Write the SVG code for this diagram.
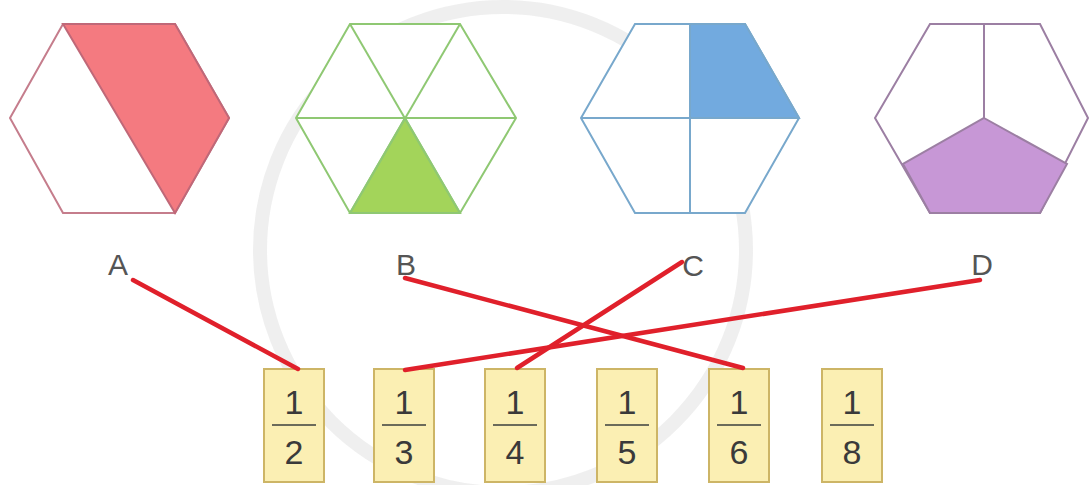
<svg xmlns="http://www.w3.org/2000/svg" width="1089" height="485" viewBox="0 0 1089 485">
<style>
.bg{fill:#ffffff}
.wm{fill:none;stroke:#ebebeb;stroke-width:14}
.lbl{font-family:"Liberation Sans",Arial,sans-serif;font-size:30px;fill:#555555;text-anchor:middle}
.card{fill:#fbefb3;stroke:#cdb566;stroke-width:2}
.num{font-family:"Liberation Sans",Arial,sans-serif;font-size:34px;fill:#3a3a3a;text-anchor:middle}
.bar{stroke:#6b6b5a;stroke-width:2}
.link{stroke:#e0202b;stroke-width:4.5;stroke-linecap:round;fill:none}
</style>
<rect class="bg" x="0" y="0" width="1089" height="485"/>
<g id="watermark" opacity="0.8">
<circle class="wm" cx="503" cy="250" r="243"/>
</g>
<g id="hexA">
<polygon points="63,24 175,24 229,118 175,213 63,213 10,118" fill="#ffffff" stroke="#c57d8c" stroke-width="2"/>
<polygon points="63,24 175,24 229,118 175,213" fill="#f47a80" stroke="#c06878" stroke-width="2"/>
</g>
<g id="hexB" stroke="#8fc873" stroke-width="2">
<polygon points="350,24 460,24 516,118 460,213 350,213 296,118" fill="#ffffff"/>
<polygon points="405,118 460,213 350,213" fill="#a3d45a"/>
<line x1="296" y1="118" x2="516" y2="118"/>
<line x1="350" y1="24" x2="460" y2="213"/>
<line x1="460" y1="24" x2="350" y2="213"/>
</g>
<g id="hexC" stroke="#78a8cc" stroke-width="2">
<polygon points="635,24 745,24 799,118 745,213 635,213 581,118" fill="#ffffff"/>
<polygon points="690,24 745,24 799,118 690,118" fill="#72aadf"/>
<line x1="581" y1="118" x2="799" y2="118"/>
<line x1="690" y1="24" x2="690" y2="213"/>
</g>
<g id="hexD" stroke="#9c7fa3" stroke-width="2">
<polygon points="930,24 1040,24 1088,118 1040,213 930,213 875,118" fill="#ffffff"/>
<polygon points="984,118 1067,164 1040,213 930,213 903,164" fill="#c797d6"/>
<line x1="984" y1="24" x2="984" y2="118"/>
</g>
<g id="labels">
<text class="lbl" x="118" y="275">A</text>
<text class="lbl" x="406" y="275">B</text>
<text class="lbl" x="693" y="276">C</text>
<text class="lbl" x="982" y="275">D</text>
</g>
<g id="card2">
<rect class="card" x="264" y="369" width="60" height="113"/>
<text class="num" x="294" y="414">1</text>
<line class="bar" x1="272" y1="425" x2="316" y2="425"/>
<text class="num" x="294" y="464">2</text>
</g>
<g id="card3">
<rect class="card" x="374" y="369" width="60" height="113"/>
<text class="num" x="404" y="414">1</text>
<line class="bar" x1="382" y1="425" x2="426" y2="425"/>
<text class="num" x="404" y="464">3</text>
</g>
<g id="card4">
<rect class="card" x="485" y="369" width="60" height="113"/>
<text class="num" x="515" y="414">1</text>
<line class="bar" x1="493" y1="425" x2="537" y2="425"/>
<text class="num" x="515" y="464">4</text>
</g>
<g id="card5">
<rect class="card" x="597" y="369" width="60" height="113"/>
<text class="num" x="627" y="414">1</text>
<line class="bar" x1="605" y1="425" x2="649" y2="425"/>
<text class="num" x="627" y="464">5</text>
</g>
<g id="card6">
<rect class="card" x="709" y="369" width="60" height="113"/>
<text class="num" x="739" y="414">1</text>
<line class="bar" x1="717" y1="425" x2="761" y2="425"/>
<text class="num" x="739" y="464">6</text>
</g>
<g id="card8">
<rect class="card" x="822" y="369" width="60" height="113"/>
<text class="num" x="852" y="414">1</text>
<line class="bar" x1="830" y1="425" x2="874" y2="425"/>
<text class="num" x="852" y="464">8</text>
</g>
<g id="connectors">
<line class="link" x1="133" y1="280" x2="298" y2="369"/>
<line class="link" x1="405" y1="278" x2="743" y2="368"/>
<line class="link" x1="682" y1="262" x2="517" y2="368"/>
<line class="link" x1="980" y1="280" x2="405" y2="370"/>
</g>
</svg>
